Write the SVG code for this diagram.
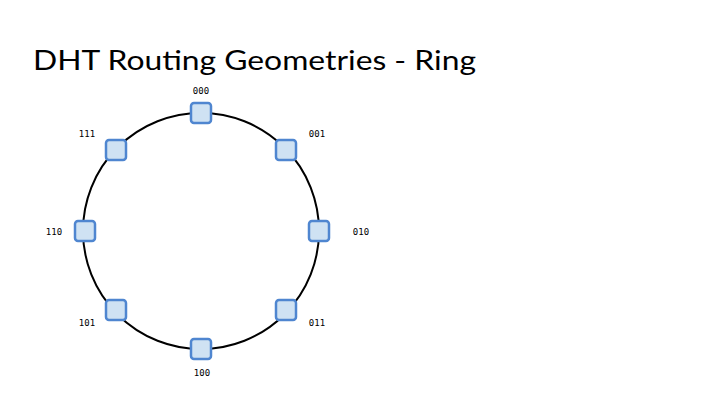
<svg xmlns="http://www.w3.org/2000/svg" width="720" height="405" viewBox="0 0 720 405">
<style>
.n{fill:#cfe2f3;stroke:#4f86d0;stroke-width:2.5}
.l{font-family:"DejaVu Sans Mono","Liberation Mono",monospace;font-size:9px;fill:#000;text-anchor:middle}
.t{font-family:Lato,"Open Sans",sans-serif;font-size:26px;fill:#000}
</style>
<rect width="720" height="405" fill="#fff"/>
<text class="t" x="33" y="70" textLength="443" lengthAdjust="spacingAndGlyphs">DHT Routing Geometries - Ring</text>
<g id="connectors"><circle cx="201" cy="231" r="118" fill="none" stroke="#000" stroke-width="2"/></g>
<g id="n000"><rect class="n" x="191" y="103" width="20" height="20" rx="3"/><text class="l" x="201" y="94">000</text></g>
<g id="n001"><rect class="n" x="276" y="140" width="20" height="20" rx="3"/><text class="l" x="317" y="137">001</text></g>
<g id="n010"><rect class="n" x="309" y="221" width="20" height="20" rx="3"/><text class="l" x="361" y="235">010</text></g>
<g id="n011"><rect class="n" x="276" y="300" width="20" height="20" rx="3"/><text class="l" x="317" y="326">011</text></g>
<g id="n100"><rect class="n" x="191" y="339" width="20" height="20" rx="3"/><text class="l" x="202" y="376">100</text></g>
<g id="n101"><rect class="n" x="106" y="300" width="20" height="20" rx="3"/><text class="l" x="87" y="326">101</text></g>
<g id="n110"><rect class="n" x="75" y="221" width="20" height="20" rx="3"/><text class="l" x="54" y="235">110</text></g>
<g id="n111"><rect class="n" x="106" y="140" width="20" height="20" rx="3"/><text class="l" x="87" y="137">111</text></g>
</svg>
